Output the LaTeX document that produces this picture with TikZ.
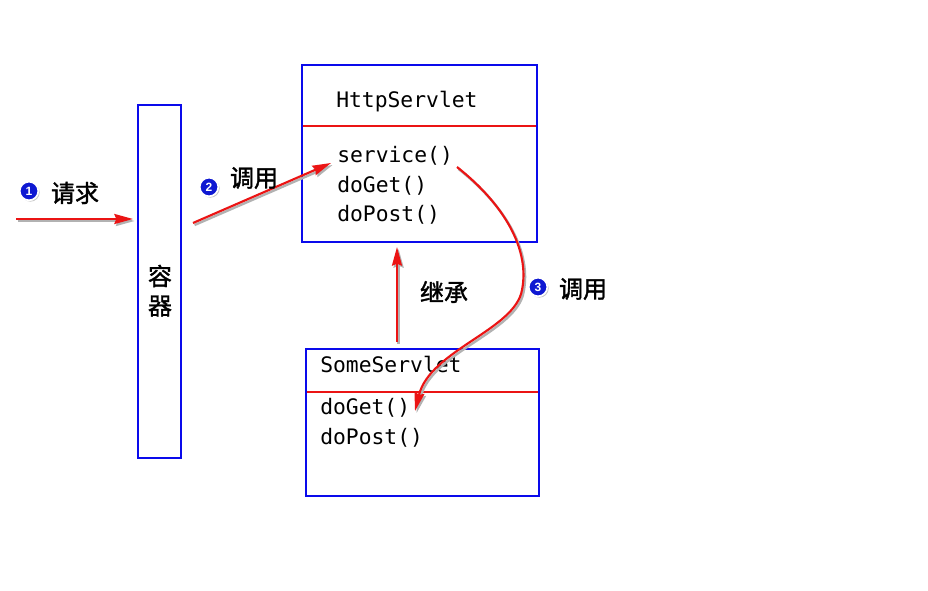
\documentclass[tikz,border=0pt]{standalone}
\usepackage{fontspec}
\setmainfont{Liberation Sans}
\setmonofont{DejaVu Sans Mono}
\newfontfamily\cjk[AutoFakeBold=1.6]{Noto Sans CJK SC}
\usetikzlibrary{arrows.meta,shadows}
\definecolor{boxblue}{RGB}{10,10,235}
\definecolor{arrred}{RGB}{235,20,20}
\definecolor{numblue}{RGB}{15,25,210}
\tikzset{
  boxline/.style={draw=boxblue,line width=1.6pt,inner sep=0pt,outer sep=0pt},
  sepline/.style={draw=arrred,line width=0.8pt},
  arr/.style={draw=arrred,line width=1.6pt,
    -{Stealth[length=14pt,width=7.5pt,inset=1.5pt]},
    preaction={draw=black!30,line width=1.8pt,transform canvas={xshift=1.2pt,yshift=-1.5pt},
      -{Stealth[length=14pt,width=7.5pt,inset=1.5pt]}}},
  code/.style={font=\fontsize{16pt}{16pt}\ttfamily,anchor=base west,inner sep=0pt},
  zh/.style={font=\fontsize{18pt}{18pt}\cjk\bfseries,inner sep=0pt},
  num/.style={circle,fill=numblue,draw=white,line width=1.3pt,minimum size=14pt,inner sep=0pt,
    text=white,font=\fontsize{9pt}{9pt}\bfseries,
    drop shadow={shadow xshift=1pt,shadow yshift=-1pt,opacity=0.45}}
}
\begin{document}
\begin{tikzpicture}[x=0.75pt,y=-0.75pt]
\useasboundingbox[fill=white] (0,0) rectangle (928,591);

% container
\node[boxline,minimum width=32.25pt,minimum height=264.75pt] (cont) at (159.5,281.5) {};
\node[zh] (rong) at (160,276) {容};
\node[zh] (qi) at (160,306) {器};

% HttpServlet box
\node[boxline,minimum width=176.25pt,minimum height=132.75pt] (http) at (419.5,153.5) {};
\draw[sepline] (303,126) -- (536,126);
\node[code] (httpname) at (336,108) {HttpServlet};
\node[code] (svc) at (337,163) {service()};
\node[code] (hget) at (337,193) {doGet()};
\node[code] (hpost) at (337,222) {doPost()};

% SomeServlet box
\node[boxline,minimum width=174.75pt,minimum height=110.25pt] (some) at (422.5,422.5) {};
\draw[sepline] (307,392) -- (538,392);
\node[code] (somename) at (320,373) {SomeServlet};
\node[code] (sget) at (320,415) {doGet()};
\node[code] (spost) at (320,445) {doPost()};

% arrow 1
\coordinate (a1s) at (16,219);
\coordinate (a1e) at (133,219);
\draw[arr] (a1s) -- (a1e);
\node[num] (n1) at (29,191) {1};
\node[zh] (l1) at (75,193) {请求};

% arrow 2
\coordinate (a2s) at (193,223);
\coordinate (a2e) at (331,163);
\draw[arr] (a2s) -- (a2e);
\node[num] (n2) at (209,187) {2};
\node[zh] (l2) at (254,178) {调用};

% inheritance
\coordinate (ihs) at (397,342);
\coordinate (ihe) at (397,247);
\draw[arr] (ihs) -- (ihe);
\node[zh] (l4) at (444,292) {继承};

% call 3
\coordinate (c3s) at (457,167);
\coordinate (c3m) at (522,290);
\coordinate (c3e) at (415,411);
\draw[arr] (c3s) .. controls (505,205) and (530,250) .. (c3m) .. controls (515,330) and (430,350) .. (c3e);
\node[num] (n3) at (538,287) {3};
\node[zh] (l3) at (583,289) {调用};
\end{tikzpicture}
\end{document}
